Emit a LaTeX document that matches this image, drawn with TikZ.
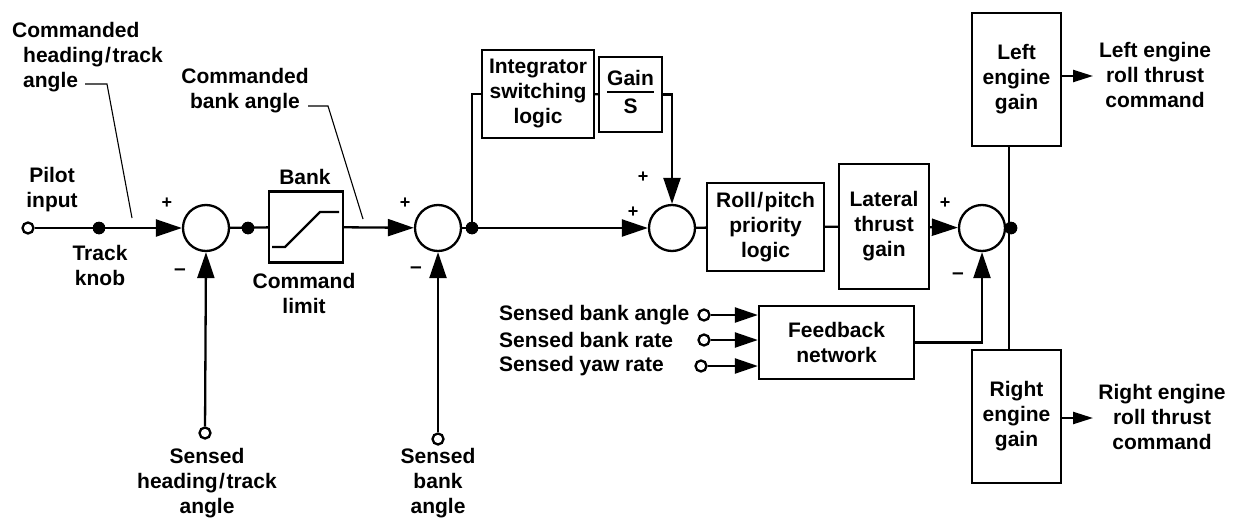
\documentclass[tikz,border=0pt]{standalone}
\usepackage{fontspec}
\setmainfont{Liberation Sans}
\usetikzlibrary{arrows.meta}
\begin{document}
\begin{tikzpicture}[x=1pt,y=-1pt,
  every node/.style={font=\fontsize{21}{25}\selectfont\bfseries},
  wire/.style={line width=2.3pt},
  tip/.style={-{Triangle[length=26pt,width=17pt]}},
  smalltip/.style={-{Triangle[length=20pt,width=12pt]}},
  midtip/.style={-{Triangle[length=23pt,width=15pt]}},
  blk/.style={draw,line width=2.3pt,inner sep=0pt,align=center},
  sum/.style={draw,circle,line width=2.3pt,minimum size=46pt,inner sep=0pt},
  jdot/.style={fill,circle,minimum size=12.5pt,inner sep=0pt},
  port/.style={draw,circle,line width=2.3pt,fill=white,minimum size=11pt,inner sep=0pt},
  lbl/.style={align=center,inner sep=0pt},
  sgn/.style={inner sep=0pt,font=\fontsize{18}{18}\selectfont\bfseries},
  mns/.style={inner sep=0pt,font=\fontsize{21}{21}\selectfont\bfseries},
  leader/.style={line width=1.1pt}]
\useasboundingbox (0,0) rectangle (1236,519);

% main path nodes
\node[sum] (s1) at (206,228) {};
\node[blk,minimum width=74pt,minimum height=71pt] (bank) at (306,227) {};
\node[sum] (s2) at (438,228) {};
\node[blk,minimum width=112pt,minimum height=88pt] (integ) at (538,94) {Integrator\\switching\\logic};
\node[blk,minimum width=63pt,minimum height=75pt] (gains) at (630.5,94.5)
  {\setlength\arrayrulewidth{2.3pt}\begin{tabular}{@{}c@{}}Gain\\[-2pt]\hline\rule{0pt}{20pt}S\end{tabular}};
\node[sum] (s3) at (672,228) {};
\node[blk,minimum width=117pt,minimum height=88pt] (roll) at (765.5,227) {Roll\kern1.5pt/\kern1.5pt pitch\\priority\\logic};
\node[blk,minimum width=90pt,minimum height=125pt] (lat) at (884,226.5) {Lateral\\thrust\\gain};
\node[sum] (s4) at (982,228) {};
\node[blk,minimum width=89pt,minimum height=133pt] (left) at (1016.5,79.5) {Left\\engine\\gain};
\node[blk,minimum width=89pt,minimum height=133pt] (right) at (1016.5,416.5) {Right\\engine\\gain};
\node[blk,minimum width=155pt,minimum height=73pt] (fb) at (836.5,342.5) {Feedback\\network};

% limiter symbol inside bank box
\draw[line width=2.3pt] (272,247) -- (285,247) -- (320,212) -- (339,212);

% ports and junctions
\node[port] (pin) at (28,228) {};
\node[jdot] (knob) at (99,228) {};
\node[jdot] (d1) at (248,228) {};
\node[jdot] (d2) at (472,228) {};
\node[jdot] (d4) at (1011,228) {};
\coordinate (v) at (1009,228);
\node[port] (sh) at (205,433) {};
\node[port] (sb) at (438,439) {};
\node[port] (p1) at (704,315) {};
\node[port] (p2) at (704,340) {};
\node[port] (p3) at (701,366) {};
\coordinate (lo) at (1093,76);
\coordinate (ro) at (1093,418);

% connectors
\draw[wire,tip] (pin) -- (s1);
\node[jdot] at (knob) {};
\draw[wire] (s1) -- (bank);
\node[jdot] at (d1) {};
\draw[wire,tip] (bank) -- (s2);
\draw[wire,tip] (s2) -- (s3);
\node[jdot] at (d2) {};
\draw[wire] (d2) |- (integ.west);
\draw[wire] (integ) -- (gains);
\draw[wire,tip] (gains.east) -| (s3.north);
\draw[wire] (s3) -- (roll);
\draw[wire] (roll) -- (lat);
\draw[wire,tip] (lat) -- (s4);
\draw[wire] (s4) -- (d4);
\draw[wire] (left.south -| v) -- (right.north -| v);
\node[jdot] at (d4) {};
\draw[wire,smalltip] (lo -| left.east) -- (lo);
\draw[wire,smalltip] (ro -| right.east) -- (ro);
\draw[wire,tip] (fb.east) -| (s4.south);
\draw[wire,tip] (sh) -- (s1.south);
\draw[wire,tip] (sb) -- (s2.south);
\draw[wire,midtip] (p1) -- (p1 -| fb.west);
\draw[wire,midtip] (p2) -- (p2 -| fb.west);
\draw[wire,midtip] (p3) -- (p3 -| fb.west);

% signs
\node[sgn] (a1) at (167,203) {+};
\node[mns] (b1) at (180,272) {\textendash};
\node[sgn] (a2) at (405,203) {+};
\node[mns] (b2) at (416,270) {\textendash};
\node[sgn] (a3) at (643,177) {+};
\node[sgn] (a4) at (633,212) {+};
\node[sgn] (a5) at (945,203) {+};
\node[mns] (b5) at (958,276) {\textendash};

% labels
\node[inner sep=0pt,align=left,anchor=west] (tcmd) at (12,57)
  {Commanded\\\hspace*{11pt}heading\kern1.5pt/\kern1.5pt track\\\hspace*{11pt}angle};
\coordinate (lA) at (85,84);
\draw[leader] (lA) -- (107,84) -- (132,218);
\node[lbl] (bcmd) at (245,91) {Commanded\\bank angle};
\coordinate (lB) at (308,106);
\draw[leader] (lB) -- (328,106) -- (363,219);
\node[lbl] (tpil) at (52,190) {Pilot\\input};
\node[lbl] (tknb) at (100,265) {Track\\knob};
\node[lbl] (tbnk) at (305,177) {Bank};
\node[lbl] (tlim) at (304,293) {Command\\limit};
\node[lbl] (tsh) at (207,483) {Sensed\\heading\kern1.5pt/\kern1.5pt track\\angle};
\node[lbl] (tsb) at (438,483) {Sensed\\bank\\angle};
\node[inner sep=0pt,anchor=west] (t1) at (499,315) {Sensed bank angle};
\node[inner sep=0pt,anchor=west] (t2) at (499,340) {Sensed bank rate};
\node[inner sep=0pt,anchor=west] (t3) at (499,366) {Sensed yaw rate};
\node[lbl] (tlo) at (1155,75) {Left engine\\roll thrust\\command};
\node[lbl] (tro) at (1162,417) {Right engine\\roll thrust\\command};
\end{tikzpicture}
\end{document}
